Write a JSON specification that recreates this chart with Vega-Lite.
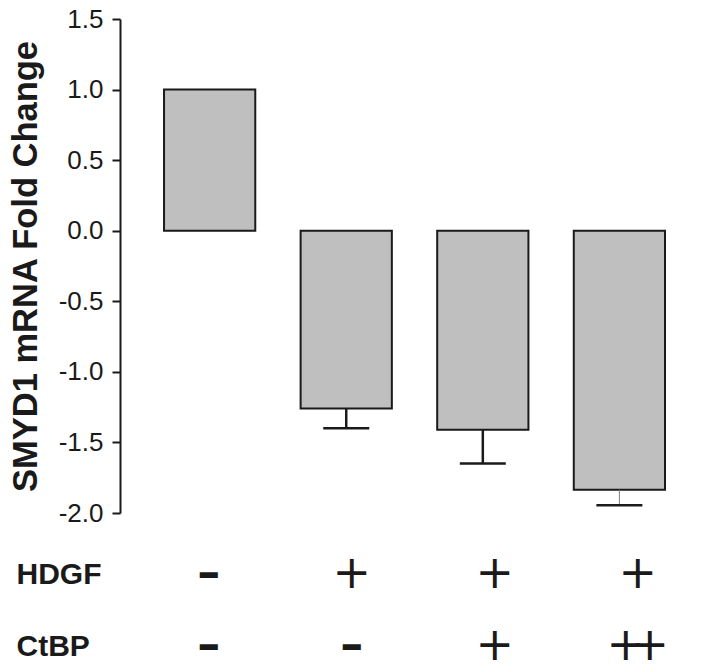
{
  "$schema": "https://vega.github.io/schema/vega-lite/v6.json",
  "background": "white",
  "padding": {"left": 8, "top": 6, "right": 0, "bottom": 0},
  "config": {"view": {"stroke": null}, "concat": {"spacing": 8}, "font": "Liberation Sans"},
  "datasets": {
    "bars": [
      {"cond": "c1", "value": 1.0, "err": null},
      {"cond": "c2", "value": -1.26, "err": -1.40},
      {"cond": "c3", "value": -1.41, "err": -1.65},
      {"cond": "c4", "value": -1.835, "err": -1.945}
    ],
    "table": [
      {"row": "HDGF", "cond": "c1", "sym": "–"},
      {"row": "HDGF", "cond": "c2", "sym": "+"},
      {"row": "HDGF", "cond": "c3", "sym": "+"},
      {"row": "HDGF", "cond": "c4", "sym": "+"},
      {"row": "CtBP", "cond": "c1", "sym": "–"},
      {"row": "CtBP", "cond": "c2", "sym": "–"},
      {"row": "CtBP", "cond": "c3", "sym": "+"},
      {"row": "CtBP", "cond": "c4", "sym": "++"}
    ]
  },
  "vconcat": [
    {
      "width": 572,
      "height": 494,
      "data": {"name": "bars"},
      "encoding": {
        "x": {"field": "cond", "type": "nominal", "axis": null, "scale": {"paddingInner": 0.332, "paddingOuter": 0.26, "align": 0.62}}
      },
      "layer": [
        {
          "mark": {"type": "bar", "fill": "#bfbfbf", "stroke": "#1a1a1a", "strokeWidth": 2},
          "encoding": {
            "y": {
              "field": "value", "type": "quantitative",
              "scale": {"domain": [-2, 1.5], "nice": false},
              "axis": {
                "values": [-2, -1.5, -1, -0.5, 0, 0.5, 1, 1.5],
                "labelExpr": "replace(format(datum.value, '.1f'), '\u2212', '-')",
                "title": "SMYD1 mRNA Fold Change",
                "titleFont": "Liberation Sans", "titleFontSize": 34.5, "titleFontWeight": "bold", "titleColor": "#1a1a1a", "titlePadding": 15,
                "labelFont": "Liberation Sans", "labelFontSize": 26, "labelColor": "#1a1a1a", "labelPadding": 9,
                "labelFlush": false, "labelOverlap": false,
                "tickSize": 8, "tickWidth": 2, "tickColor": "#1a1a1a",
                "domainColor": "#1a1a1a", "domainWidth": 2, "grid": false
              }
            }
          }
        },
        {
          "transform": [{"filter": "datum.err != null"}],
          "mark": {"type": "rule"},
          "encoding": {
            "y": {"field": "value", "type": "quantitative"},
            "y2": {"field": "err"},
            "strokeWidth": {"condition": {"test": "datum.cond == 'c4'", "value": 1}, "value": 2.5},
            "color": {"condition": {"test": "datum.cond == 'c4'", "value": "#808080"}, "value": "#1a1a1a"}
          }
        },
        {
          "transform": [{"filter": "datum.err != null"}],
          "mark": {"type": "tick", "color": "#1a1a1a", "size": 46, "thickness": 2.5, "opacity": 1},
          "encoding": {"y": {"field": "err", "type": "quantitative"}}
        },
        {
          "mark": {"type": "rule", "stroke": "#1a1a1a", "strokeWidth": 2},
          "encoding": {"y": {"datum": 0}}
        }
      ]
    },
    {
      "width": 572,
      "height": 130,
      "data": {"name": "table"},
      "encoding": {
        "x": {"field": "cond", "type": "nominal", "axis": null, "scale": {"paddingInner": 0.332, "paddingOuter": 0.26, "align": 0.62}},
        "y": {
          "field": "row", "type": "nominal", "sort": ["HDGF", "CtBP"],
          "scale": {"type": "point", "padding": 0.403, "align": 0.69},
          "axis": {
            "title": null, "domain": false, "ticks": false, "tickSize": 0,
            "labelAlign": "left", "labelPadding": 104, "labelBaseline": "middle",
            "labelFont": "Liberation Sans", "labelFontSize": 30, "labelFontWeight": "bold", "labelColor": "#1a1a1a"
          }
        }
      },
      "layer": [
        {
          "transform": [{"filter": "datum.sym == '+'"}],
          "mark": {"type": "text", "font": "DejaVu Sans", "fontSize": 46, "color": "#1a1a1a", "baseline": "middle", "align": "center"},
          "encoding": {"text": {"field": "sym"}}
        },
        {
          "transform": [{"filter": "datum.sym == '–'"}],
          "mark": {"type": "text", "font": "DejaVu Sans", "fontSize": 46, "fontWeight": "bold", "color": "#1a1a1a", "baseline": "middle", "align": "center"},
          "encoding": {"text": {"field": "sym"}}
        },
        {
          "transform": [{"filter": "datum.sym == '++'"}],
          "mark": {"type": "text", "font": "DejaVu Sans", "fontSize": 46, "color": "#1a1a1a", "baseline": "middle", "align": "center", "dx": -12},
          "encoding": {"text": {"value": "+"}}
        },
        {
          "transform": [{"filter": "datum.sym == '++'"}],
          "mark": {"type": "text", "font": "DejaVu Sans", "fontSize": 46, "color": "#1a1a1a", "baseline": "middle", "align": "center", "dx": 12},
          "encoding": {"text": {"value": "+"}}
        }
      ]
    }
  ]
}
